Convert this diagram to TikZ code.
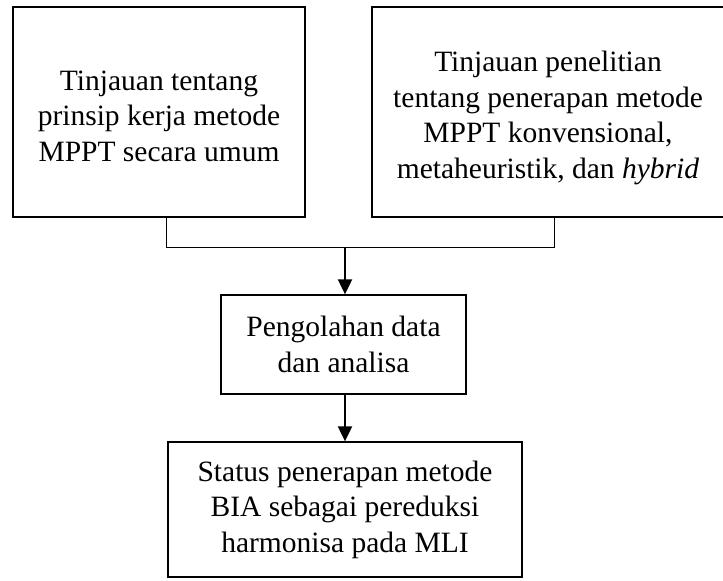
\documentclass[tikz,border=0pt]{standalone}
\usepackage{fontspec}
\setmainfont{Liberation Serif}
\usetikzlibrary{arrows.meta}
\newcommand\lowerby[1]{\rule{0pt}{#1}}
\begin{document}
\begin{tikzpicture}[x=1pt,y=-1pt,
  box/.style={draw,line width=1.3pt,align=center,inner sep=0pt,
    font=\fontsize{29.5}{35.5}\selectfont},
  link/.style={draw,line width=0.9pt},
  flow/.style={draw,line width=2pt,-{Triangle[length=15pt,width=14pt]}}]
\useasboundingbox (0,0) rectangle (723,581);
\node[box,minimum width=292pt,minimum height=210pt] (b1) at (159,112)
  {\lowerby{28pt}Tinjauan tentang\\prinsip kerja metode\\MPPT secara umum};
\node[box,minimum width=352pt,minimum height=210pt] (b2) at (548,112)
  {\lowerby{32pt}Tinjauan penelitian\\tentang penerapan metode\\MPPT konvensional,\\metaheuristik, dan \textit{hybrid}};
\node[box,minimum width=245pt,minimum height=99pt] (b3) at (343.5,344.5)
  {Pengolahan data\\dan analisa};
\node[box,minimum width=354pt,minimum height=135pt] (b4) at (345,509.5)
  {Status penerapan metode\\BIA sebagai pereduksi\\harmonisa pada MLI};
\coordinate (bl) at (166,247);
\coordinate (br) at (554,247);
\coordinate (bm) at (345,247);
\draw[link] (b1.south -| bl) -- (bl) -- (br) -- (b2.south -| br);
\draw[flow] (bm) -- (b3.north -| bm);
\draw[flow] (b3.south -| bm) -- (b4.north -| bm);
\end{tikzpicture}
\end{document}
